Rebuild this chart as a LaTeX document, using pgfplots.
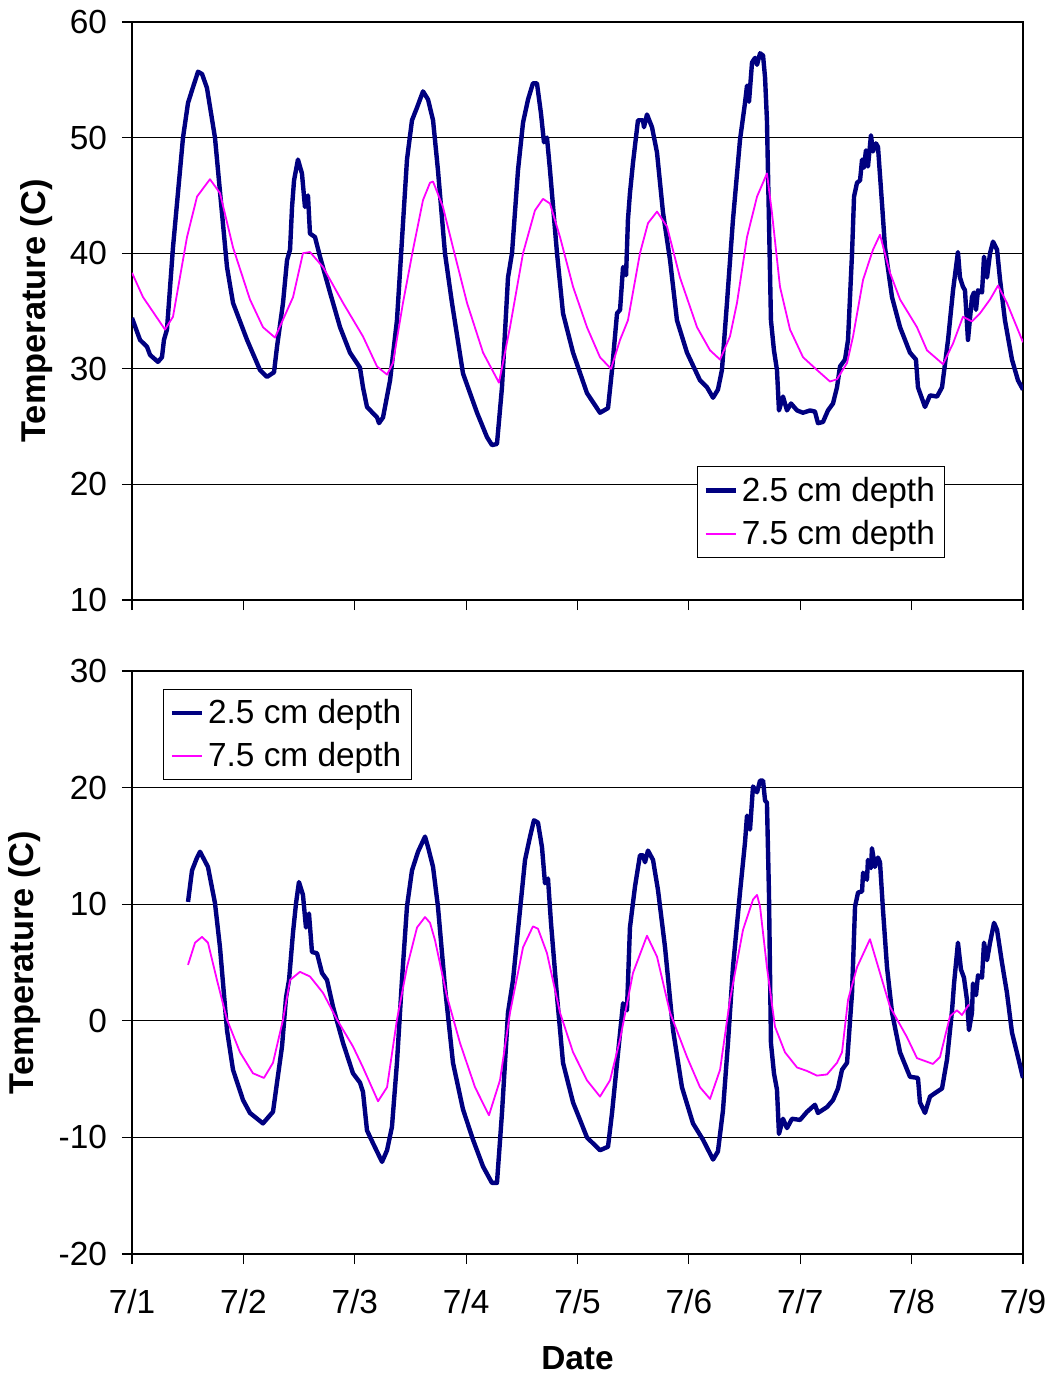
\documentclass[border=0pt]{standalone}
\usepackage{fontspec}
\setmainfont{Liberation Sans}
\usepackage{pgfplots}
\pgfplotsset{compat=1.18}
\definecolor{navyc}{HTML}{000080}
\definecolor{magc}{HTML}{FF00FF}
\newcommand{\tkf}{\fontsize{16.7}{20}\selectfont}
\newcommand{\xkf}{\fontsize{16.7}{20}\selectfont}
\newcommand{\ylf}{\fontsize{17.2}{20}\selectfont}
\pgfplotsset{
  panel/.style={
    scale only axis,
    width=445.5pt,
    xmin=0, xmax=8,
    xtick={0,1,2,3,4,5,6,7,8},
    tick align=outside,
    major tick length=5pt,
    xtick pos=lower, ytick pos=left,
    ymajorgrids,
    grid style={black, line width=0.5pt},
    axis line style={black, line width=0.6pt},
    every tick/.style={black, line width=0.6pt},
    /pgf/number format/assume math mode=true,
    yticklabel style={font=\tkf, xshift=-4pt},
    xticklabel style={font=\xkf, yshift=-9pt},
    ylabel={\textbf{Temperature (C)}},
    ylabel style={font=\ylf, rotate=0},
    legend cell align=left,
    legend style={draw=black, line width=0.5pt, font=\tkf, inner xsep=3pt, inner ysep=3pt, row sep=4pt},
    legend image code/.code={\draw[#1] (0pt,0pt) -- (15pt,0pt);},
  },
  deep/.style={color=navyc, line width=2.2pt, line join=round},
  shal/.style={color=magc, line width=0.9pt, line join=round},
}
\begin{document}
\begin{tikzpicture}
\path[use as bounding box] (0,0) rectangle (525pt,-688pt);
% ---------------- top panel ----------------
\begin{axis}[panel,
  at={(66pt,-300pt)}, anchor=south west,
  height=289pt,
  ymin=10, ymax=60, ytick={10,20,30,40,50,60},
  xticklabels={},
  ylabel style={at={(axis description cs:-0.1066,0.5)}, anchor=center},
  legend style={at={(0.634,0.073)}, anchor=south west},
]
\addplot[deep] coordinates {
(0,34.4) (0.072,32.5) (0.135,31.9) (0.162,31.2) (0.233,30.6) (0.269,31.0) (0.287,32.5) (0.314,33.4)
(0.368,40.5) (0.458,50) (0.503,53) (0.539,54.1) (0.593,55.7) (0.629,55.5) (0.673,54.3) (0.745,50)
(0.853,38.8) (0.907,35.7) (1.033,32.5) (1.149,29.9) (1.212,29.3) (1.275,29.7) (1.302,31.9) (1.356,35.7)
(1.392,39.4) (1.419,40.3) (1.437,44) (1.455,46.3) (1.490,48.1) (1.526,46.9) (1.553,44) (1.580,45)
(1.598,41.7) (1.643,41.4) (1.688,39.7) (1.778,36.6) (1.868,33.6) (1.957,31.4) (2.047,30.1) (2.074,28.4)
(2.110,26.7) (2.200,25.8) (2.218,25.3) (2.254,25.8) (2.317,29) (2.379,34.2) (2.469,48.1) (2.514,51.5)
(2.559,52.6) (2.613,54.0) (2.658,53.3) (2.703,51.5) (2.747,47.2) (2.810,40) (2.873,35.7) (2.972,29.6)
(3.098,26.2) (3.187,24.1) (3.232,23.4) (3.277,23.5) (3.322,28.4) (3.376,37.9) (3.412,40) (3.466,47.2)
(3.511,51.3) (3.556,53.3) (3.600,54.7) (3.636,54.7) (3.672,52.1) (3.699,49.6) (3.726,50) (3.753,47.2)
(3.816,40) (3.870,34.8) (3.960,31.4) (4.085,27.9) (4.202,26.2) (4.274,26.6) (4.310,29.9) (4.355,34.8)
(4.382,35.1) (4.409,38.8) (4.436,38.1) (4.453,42.9) (4.471,45.2) (4.498,47.8) (4.543,51.5) (4.588,51.5)
(4.597,50.9) (4.624,52) (4.669,50.9) (4.714,48.7) (4.768,43.5) (4.831,39.4) (4.893,34.2) (4.983,31.4)
(5.100,29) (5.163,28.4) (5.217,27.5) (5.261,28.2) (5.297,29.9) (5.342,35.7) (5.396,42.9) (5.459,49.8)
(5.504,53) (5.522,54.5) (5.540,53.1) (5.567,56.5) (5.594,56.9) (5.612,56.3) (5.639,57.3) (5.666,57.1)
(5.684,55.2) (5.701,51.5) (5.719,42.9) (5.737,34.2) (5.764,31.6) (5.791,29.9) (5.809,26.4) (5.845,27.6)
(5.881,26.4) (5.917,27) (5.971,26.4) (6.025,26.2) (6.088,26.4) (6.132,26.3) (6.159,25.3) (6.204,25.4)
(6.249,26.4) (6.294,27) (6.330,28.4) (6.357,30.2) (6.402,30.8) (6.429,32.5) (6.465,40) (6.483,44.9)
(6.510,46.1) (6.537,46.3) (6.555,48.1) (6.572,47.4) (6.590,48.9) (6.608,47.5) (6.635,50.2) (6.653,48.8)
(6.680,49.5) (6.698,49.2) (6.734,44.3) (6.761,40.5) (6.824,36.2) (6.896,33.6) (6.985,31.4) (7.039,30.8)
(7.057,28.4) (7.120,26.7) (7.165,27.7) (7.228,27.6) (7.273,28.4) (7.327,32.5) (7.372,36.8) (7.416,40.1)
(7.434,37.9) (7.461,37.1) (7.479,36.8) (7.506,32.5) (7.542,36.2) (7.560,36.6) (7.578,35.1) (7.596,36.8)
(7.632,36.6) (7.650,39.7) (7.677,37.9) (7.704,40) (7.731,41) (7.767,40.3) (7.794,37.7) (7.838,34.2)
(7.901,30.8) (7.955,29) (8.000,28.2)
};
\addlegendentry{2.5 cm depth}
\addplot[shal] coordinates {
(0,38.3) (0.099,36.2) (0.296,33.4) (0.368,34.5) (0.494,41.4) (0.584,44.9) (0.700,46.4) (0.790,45.2)
(0.907,40.5) (1.059,36) (1.176,33.6) (1.284,32.7) (1.446,36.2) (1.535,40) (1.598,40.1) (1.715,38.8)
(1.895,35.7) (2.074,32.8) (2.200,30.2) (2.290,29.5) (2.343,30.5) (2.433,35.7) (2.523,40.3) (2.613,44.6)
(2.676,46.1) (2.703,46.2) (2.792,44) (2.882,40.5) (3.008,35.7) (3.152,31.4) (3.295,28.8) (3.394,33.6)
(3.511,40) (3.618,43.7) (3.690,44.7) (3.753,44.3) (3.843,41.4) (3.960,37.1) (4.085,33.6) (4.202,31)
(4.301,30) (4.382,32.5) (4.453,34.2) (4.561,40) (4.633,42.6) (4.714,43.6) (4.804,42.3) (4.920,37.9)
(5.073,33.6) (5.190,31.6) (5.280,30.8) (5.369,32.8) (5.432,35.7) (5.522,41.4) (5.612,44.9) (5.701,46.9)
(5.746,43.5) (5.818,37.1) (5.908,33.4) (6.025,31) (6.150,29.9) (6.267,28.9) (6.330,29.1) (6.420,30.5)
(6.474,32.8) (6.564,37.7) (6.653,40.3) (6.716,41.6) (6.806,38.3) (6.896,36) (7.048,33.6) (7.138,31.6)
(7.282,30.4) (7.372,32.2) (7.461,34.5) (7.542,34.1) (7.614,34.8) (7.704,36) (7.776,37.2) (7.856,35.7)
(8.000,32.3)
};
\addlegendentry{7.5 cm depth}
\end{axis}
% ---------------- bottom panel ----------------
\begin{axis}[panel,
  at={(66pt,-627pt)}, anchor=south west,
  height=291.5pt,
  ymin=-20, ymax=30, ytick={-20,-10,0,10,20,30},
  yticklabels={-20,-10,0,10,20,30},
  xticklabels={7/1,7/2,7/3,7/4,7/5,7/6,7/7,7/8,7/9},
  xlabel={\textbf{Date}},
  xlabel style={font=\xkf, at={(axis description cs:0.5,0)}, anchor=center, yshift=-52pt},
  ylabel style={at={(axis description cs:-0.120,0.5)}, anchor=center},
  legend style={at={(0.035,0.969)}, anchor=north west},
]
\addplot[deep] coordinates {
(0.503,10.2) (0.539,12.9) (0.584,14) (0.611,14.5) (0.682,13.2) (0.745,10.1) (0.790,6.3) (0.853,-0.8)
(0.907,-4.2) (0.997,-6.8) (1.059,-7.9) (1.176,-8.8) (1.266,-7.8) (1.302,-5.3) (1.347,-2.2) (1.383,2)
(1.410,3.5) (1.446,7.6) (1.473,10.1) (1.499,11.9) (1.535,10.8) (1.562,8) (1.589,9.2) (1.616,5.9)
(1.661,5.8) (1.706,4.1) (1.751,3.5) (1.805,1.2) (1.895,-1.9) (1.984,-4.5) (2.047,-5.3) (2.074,-6.1)
(2.110,-9.4) (2.164,-10.5) (2.245,-12.1) (2.290,-11.1) (2.334,-9.1) (2.379,-3.6) (2.424,3.5) (2.469,9.8)
(2.514,12.9) (2.568,14.5) (2.631,15.8) (2.658,14.9) (2.703,13.2) (2.747,9.8) (2.810,2.9) (2.882,-3.6)
(2.972,-7.6) (3.062,-10.2) (3.152,-12.5) (3.232,-13.9) (3.277,-13.9) (3.322,-7.9) (3.376,0.7) (3.421,3.5)
(3.466,7.8) (3.529,13.8) (3.574,15.8) (3.609,17.2) (3.645,17) (3.681,14.9) (3.708,11.8) (3.735,12.2)
(3.762,8.4) (3.816,2.1) (3.870,-3.6) (3.960,-7) (4.085,-10) (4.202,-11.1) (4.274,-10.8) (4.310,-7.9)
(4.355,-3.6) (4.373,-1.9) (4.409,1.5) (4.444,0.9) (4.471,8) (4.516,11.5) (4.561,14.2) (4.588,14.2)
(4.606,13.6) (4.633,14.6) (4.678,13.8) (4.723,11.2) (4.786,6.3) (4.858,-0.8) (4.938,-5.7) (5.037,-8.8)
(5.127,-10.2) (5.217,-11.9) (5.261,-11.2) (5.306,-7.7) (5.351,-1.9) (5.396,4.6) (5.459,11) (5.504,15.3)
(5.522,17.6) (5.549,16.4) (5.576,20.1) (5.612,19.6) (5.639,20.6) (5.666,20.6) (5.684,18.9) (5.701,18.7)
(5.719,11) (5.737,-1.9) (5.764,-4.5) (5.791,-5.9) (5.809,-9.7) (5.845,-8.4) (5.881,-9.2) (5.926,-8.4)
(5.998,-8.5) (6.061,-7.8) (6.132,-7.2) (6.159,-7.9) (6.240,-7.4) (6.294,-6.8) (6.339,-5.8) (6.375,-4.2)
(6.420,-3.6) (6.465,2.4) (6.492,9.8) (6.519,11) (6.555,11.1) (6.564,12.7) (6.599,12.1) (6.608,13.8)
(6.635,13.1) (6.644,14.8) (6.671,13.2) (6.698,14) (6.716,13.6) (6.743,9.5) (6.779,4.6) (6.824,0.7)
(6.896,-2.7) (6.985,-4.8) (7.057,-4.9) (7.075,-7) (7.120,-7.9) (7.165,-6.5) (7.210,-6.2) (7.273,-5.8)
(7.318,-3.3) (7.363,0.9) (7.381,3.2) (7.416,6.7) (7.443,4.4) (7.470,3.7) (7.497,1.8) (7.515,-0.8)
(7.542,0.7) (7.551,3.2) (7.578,2.2) (7.596,3.9) (7.632,3.7) (7.650,6.7) (7.677,5.2) (7.704,6.7)
(7.740,8.4) (7.767,7.8) (7.811,5) (7.856,2.4) (7.901,-1) (7.955,-3.1) (8.000,-4.9)
};
\addlegendentry{2.5 cm depth}
\addplot[shal] coordinates {
(0.503,4.8) (0.566,6.7) (0.629,7.2) (0.682,6.7) (0.763,3.5) (0.853,0.1) (0.970,-2.7) (1.086,-4.5)
(1.185,-4.9) (1.266,-3.6) (1.356,0.1) (1.419,3.5) (1.508,4.2) (1.598,3.8) (1.715,2.4) (1.841,0.1)
(1.984,-2.2) (2.074,-4) (2.209,-6.9) (2.290,-5.7) (2.379,0.1) (2.469,4.6) (2.559,8) (2.631,8.9)
(2.676,8.4) (2.721,6.9) (2.828,2.1) (2.945,-1.9) (3.080,-5.7) (3.205,-8.1) (3.304,-5.1) (3.394,0.7)
(3.511,6.3) (3.600,8.1) (3.645,7.9) (3.726,5.8) (3.843,0.7) (3.960,-2.7) (4.085,-5.1) (4.202,-6.5)
(4.292,-5.1) (4.382,-1.6) (4.498,4.1) (4.624,7.3) (4.714,5.5) (4.831,0.7) (4.983,-3.1) (5.100,-5.7)
(5.190,-6.7) (5.280,-4.2) (5.369,1.8) (5.486,7.8) (5.576,10.4) (5.612,10.8) (5.639,9.8) (5.701,4.6)
(5.773,-0.5) (5.863,-2.7) (5.971,-4) (6.061,-4.3) (6.150,-4.7) (6.240,-4.6) (6.330,-3.6) (6.375,-2.7)
(6.429,1.8) (6.510,4.6) (6.626,7) (6.716,4.1) (6.806,1.2) (6.958,-1.4) (7.048,-3.2) (7.192,-3.7)
(7.255,-3.1) (7.345,0.4) (7.407,0.9) (7.452,0.5) (7.515,1.4)
};
\addlegendentry{7.5 cm depth}
\end{axis}
\end{tikzpicture}
\end{document}
